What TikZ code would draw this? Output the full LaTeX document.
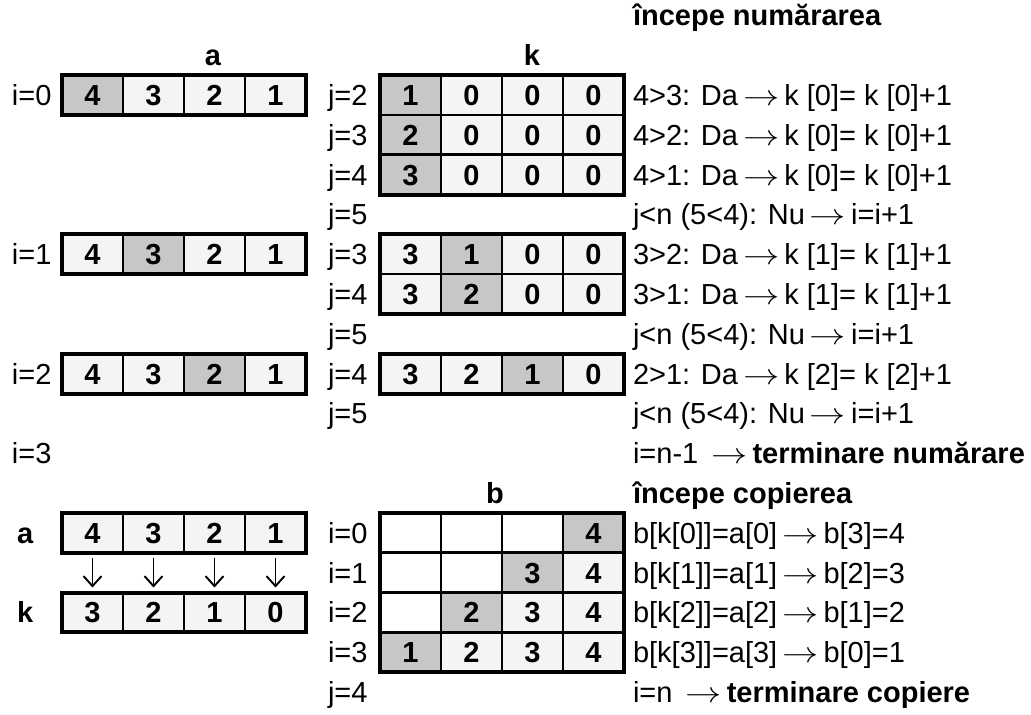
\RequirePackage{fix-cm}
\documentclass[tikz,border=0pt]{standalone}
\usepackage{graphicx}
\usepackage{fontspec}
\setmainfont{Liberation Sans}
\usetikzlibrary{arrows.meta}
\newcommand\fs{\fontsize{29pt}{34pt}\selectfont}
\newcommand\ra{\hspace{5pt}\scalebox{1.25}[1]{$\rightarrow$}\hspace{5pt}}
\colorlet{lt}{gray!9}
\colorlet{dk}{gray!44}
\colorlet{wt}{white}
\tikzset{
  txt/.style={anchor=west, inner sep=0pt, outer sep=0pt, text height=20.8pt, text depth=0pt, font=\fs},
  ttl/.style={txt, font=\fs\bfseries},
  hdr/.style={anchor=center, inner sep=0pt, text height=20.8pt, text depth=0pt, font=\fs\bfseries},
  cell/.style={draw, line width=2.6pt, minimum width=61pt, minimum height=39.8pt, inner sep=0pt, outer sep=0pt, font=\fs\bfseries, text height=20.8pt, text depth=0pt},
  frame/.style={line width=4pt},
  arr/.style={-{Straight Barb[length=10pt,width=18pt,line width=1.9pt]}, line width=1.9pt, shorten <=5pt, shorten >=5pt}
}
% #1 prefix, #2 left x, #3 centre y, #4 list colour/text
\newcommand\arow[4]{%
  \foreach [count=\ci] \st/\tx in {#4} {
    \node[cell, fill=\st] (#1-\ci) at ({#2+30.5+(\ci-1)*61}, #3) {\tx};
  }%
}
\begin{document}
\begin{tikzpicture}[x=1pt,y=-1pt]
\fill[white] (0,0) rectangle (1031,715);
\useasboundingbox (0,0) rectangle (1031,715);

% headers
\node[ttl] (t1) at (633,15.4) {începe numărarea};
\node[hdr] (ha) at (213,55.2) {a};
\node[hdr] (hk) at (532,55.2) {k};

% left labels
\node[txt] (li0) at (12,95.0) {i=0};
\node[txt] (li1) at (12,254.2) {i=1};
\node[txt] (li2) at (12,373.6) {i=2};
\node[txt] (li3) at (12,453.2) {i=3};

% a arrays
\arow{a0}{62}{95.0}{dk/4,lt/3,lt/2,lt/1}
\draw[frame] (a0-1.north west) rectangle (a0-4.south east);
\arow{a1}{62}{254.2}{lt/4,dk/3,lt/2,lt/1}
\draw[frame] (a1-1.north west) rectangle (a1-4.south east);
\arow{a2}{62}{373.6}{lt/4,lt/3,dk/2,lt/1}
\draw[frame] (a2-1.north west) rectangle (a2-4.south east);

% j labels
\node[txt] (j1) at (328,95.0) {j=2};
\node[txt] (j2) at (328,134.8) {j=3};
\node[txt] (j3) at (328,174.6) {j=4};
\node[txt] (j4) at (328,214.4) {j=5};
\node[txt] (j5) at (328,254.2) {j=3};
\node[txt] (j6) at (328,294.0) {j=4};
\node[txt] (j7) at (328,333.8) {j=5};
\node[txt] (j8) at (328,373.6) {j=4};
\node[txt] (j9) at (328,413.4) {j=5};

% k arrays
\arow{k1}{380}{95.0}{dk/1,lt/0,lt/0,lt/0}
\arow{k2}{380}{134.8}{dk/2,lt/0,lt/0,lt/0}
\arow{k3}{380}{174.6}{dk/3,lt/0,lt/0,lt/0}
\draw[frame] (k1-1.north west) rectangle (k3-4.south east);
\arow{k4}{380}{254.2}{lt/3,dk/1,lt/0,lt/0}
\arow{k5}{380}{294.0}{lt/3,dk/2,lt/0,lt/0}
\draw[frame] (k4-1.north west) rectangle (k5-4.south east);
\arow{k6}{380}{373.6}{lt/3,lt/2,dk/1,lt/0}
\draw[frame] (k6-1.north west) rectangle (k6-4.south east);

% right texts, counting
\node[txt] (r3) at (633,95.0) {4>3: Da\ra k [0]= k [0]+1};
\node[txt] (r4) at (633,134.8) {4>2: Da\ra k [0]= k [0]+1};
\node[txt] (r5) at (633,174.6) {4>1: Da\ra k [0]= k [0]+1};
\node[txt] (r6) at (633,214.4) {j<n (5<4): Nu\ra i=i+1};
\node[txt] (r7) at (633,254.2) {3>2: Da\ra k [1]= k [1]+1};
\node[txt] (r8) at (633,294.0) {3>1: Da\ra k [1]= k [1]+1};
\node[txt] (r9) at (633,333.8) {j<n (5<4): Nu\ra i=i+1};
\node[txt] (r10) at (633,373.6) {2>1: Da\ra k [2]= k [2]+1};
\node[txt] (r11) at (633,413.4) {j<n (5<4): Nu\ra i=i+1};
\node[txt] (r12) at (633,453.2) {i=n-1\hspace{8pt}\ra\textbf{terminare numărare}};

% copying
\node[ttl] (t2) at (633,493.0) {începe copierea};
\node[hdr] (hb) at (495,493.0) {b};

\node[ttl] (la) at (17,532.8) {a};
\node[ttl] (lk) at (17,612.4) {k};
\arow{ba}{62}{532.8}{lt/4,lt/3,lt/2,lt/1}
\draw[frame] (ba-1.north west) rectangle (ba-4.south east);
\arow{bk}{62}{612.4}{lt/3,lt/2,lt/1,lt/0}
\draw[frame] (bk-1.north west) rectangle (bk-4.south east);
\foreach \i in {1,...,4} \draw[arr] (ba-\i.south) -- (bk-\i.north);

\node[txt] (ib0) at (328,532.8) {i=0};
\node[txt] (ib1) at (328,572.6) {i=1};
\node[txt] (ib2) at (328,612.4) {i=2};
\node[txt] (ib3) at (328,652.2) {i=3};
\node[txt] (ib4) at (328,692.0) {j=4};

\arow{b0}{380}{532.8}{wt/{},wt/{},wt/{},dk/4}
\arow{b1}{380}{572.6}{wt/{},wt/{},dk/3,lt/4}
\arow{b2}{380}{612.4}{wt/{},dk/2,lt/3,lt/4}
\arow{b3}{380}{652.2}{dk/1,lt/2,lt/3,lt/4}
\draw[frame] (b0-1.north west) rectangle (b3-4.south east);

\node[txt] (r14) at (633,532.8) {b[k[0]]=a[0]\ra b[3]=4};
\node[txt] (r15) at (633,572.6) {b[k[1]]=a[1]\ra b[2]=3};
\node[txt] (r16) at (633,612.4) {b[k[2]]=a[2]\ra b[1]=2};
\node[txt] (r17) at (633,652.2) {b[k[3]]=a[3]\ra b[0]=1};
\node[txt] (r18) at (633,692.0) {i=n\hspace{8pt}\ra\textbf{terminare copiere}};
\end{tikzpicture}
\end{document}
